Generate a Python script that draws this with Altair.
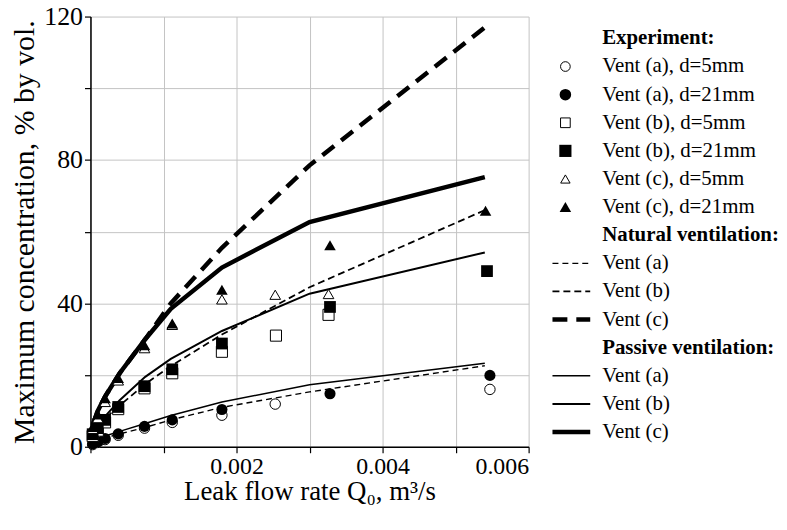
import altair as alt
import pandas as pd

# ---------------- data ----------------
# model curves (vertices of the piecewise curves)
line_x = [0.00003, 0.0001, 0.0002, 0.0004, 0.00075, 0.0011, 0.0018, 0.003, 0.0054]
nat_a = [1.2, 1.8, 2.5, 3.6, 5.4, 7.5, 11.0, 15.3, 22.6]
nat_b = [3.5, 5.5, 8.0, 11.5, 17.5, 22.5, 31.3, 44.5, 66.0]
nat_c = [6.0, 10.0, 14.0, 20.5, 30.0, 40.0, 55.5, 78.5, 117.0]
pas_a = [1.5, 2.2, 3.0, 4.3, 6.5, 8.7, 12.5, 17.3, 23.3]
pas_b = [4.0, 6.0, 8.5, 13.0, 19.5, 24.5, 32.3, 42.7, 54.2]
pas_c = [6.0, 10.0, 14.0, 20.5, 30.0, 38.5, 50.0, 62.7, 75.2]

# experiments
a5_x = [0.00003, 0.0001, 0.0002, 0.00038, 0.00074, 0.00112, 0.0018, 0.00253, 0.00547]
a5_y = [0.6, 1.2, 2.0, 3.2, 5.2, 6.8, 8.8, 11.9, 16.0]
a21_x = [0.00003, 0.0001, 0.0002, 0.00038, 0.00074, 0.00112, 0.0018, 0.00328, 0.00547]
a21_y = [0.8, 1.4, 2.3, 3.6, 5.7, 7.5, 10.4, 14.8, 19.9]
b5_x = [0.00003, 0.0001, 0.0002, 0.00038, 0.00074, 0.00112, 0.0018, 0.00254, 0.00326]
b5_y = [3.0, 4.5, 6.8, 10.5, 16.3, 20.5, 26.5, 31.0, 36.8]
b21_x = [0.00003, 0.0001, 0.0002, 0.00038, 0.00074, 0.00112, 0.0018, 0.00328, 0.00543]
b21_y = [3.5, 5.2, 7.5, 11.1, 16.9, 21.6, 28.8, 39.0, 49.0]
c5_x = [0.00003, 0.0001, 0.0002, 0.00038, 0.00074, 0.00112, 0.0018, 0.00253, 0.00326]
c5_y = [5.0, 8.0, 12.5, 18.5, 27.5, 34.0, 41.1, 42.4, 42.6]
c21_x = [0.00003, 0.0001, 0.0002, 0.00038, 0.00074, 0.00112, 0.0018, 0.00328, 0.00541]
c21_y = [5.5, 9.0, 13.5, 19.2, 28.3, 34.4, 43.8, 56.2, 65.8]

x_ticks = [0.0, 0.001, 0.002, 0.003, 0.004, 0.005, 0.006]
y_ticks = [0, 20, 40, 60, 80, 100, 120]

legend_labels = ["Experiment:", "Vent (a), d=5mm", "Vent (a), d=21mm", "Vent (b), d=5mm",
                 "Vent (b), d=21mm", "Vent (c), d=5mm", "Vent (c), d=21mm",
                 "Natural ventilation:", "Vent (a)", "Vent (b)", "Vent (c)",
                 "Passive ventilation:", "Vent (a)", "Vent (b)", "Vent (c)"]
heading_rows = [0, 7, 11]

FONT = "Liberation Serif, Times New Roman, DejaVu Serif, serif"
W, H = 441, 433

xenc = alt.X("x:Q", scale=alt.Scale(domain=[0, 0.006], nice=False, zero=False),
             axis=alt.Axis(values=x_ticks, title="Leak flow rate Q₀, m³/s",
                           labelExpr="(datum.value > 0.0001 && round(datum.value*1000) % 2 == 0) ? format(datum.value, '.3f') : ''",
                           grid=True, gridColor="#c4c4c4", gridWidth=1,
                           tickSize=6, tickColor="black", tickWidth=1.2,
                           domainColor="black", domainWidth=1.5,
                           labelFont=FONT, labelFontSize=24, labelColor="black", labelPadding=2,
                           titleFont=FONT, titleFontSize=27, titleFontWeight="normal",
                           titleColor="black", titlePadding=0))
yenc = alt.Y("y:Q", scale=alt.Scale(domain=[0, 120], nice=False),
             axis=alt.Axis(values=y_ticks, title="Maximum concentration, % by vol.",
                           labelExpr="datum.value % 40 == 0 ? datum.label : ''",
                           grid=True, gridColor="#c4c4c4", gridWidth=1,
                           tickSize=6, tickColor="black", tickWidth=1.2,
                           domainColor="black", domainWidth=1.5,
                           labelFont=FONT, labelFontSize=26, labelColor="black", labelPadding=2,
                           titleFont=FONT, titleFontSize=30, titleFontWeight="normal",
                           titleColor="black", titlePadding=4))

layers = []
line_specs = [
    (nat_a, 1.4, [6, 4]),
    (nat_b, 1.8, [7, 4]),
    (nat_c, 4.5, [15, 9]),
    (pas_a, 1.5, None),
    (pas_b, 2.0, None),
    (pas_c, 4.5, None),
]
for ys, w, dash in line_specs:
    df = pd.DataFrame({"x": line_x, "y": ys})
    kw = dict(color="black", strokeWidth=w, clip=True)
    if dash:
        kw["strokeDash"] = dash
    layers.append(alt.Chart(df).mark_line(**kw).encode(x=xenc, y=yenc))

point_specs = [
    (a5_x, a5_y, "circle", False, 110),
    (a21_x, a21_y, "circle", True, 125),
    (b5_x, b5_y, "square", False, 125),
    (b21_x, b21_y, "square", True, 140),
    (c5_x, c5_y, "triangle-up", False, 115),
    (c21_x, c21_y, "triangle-up", True, 135),
]
for xs, ys, shape, filled, size in point_specs:
    df = pd.DataFrame({"x": xs, "y": ys})
    if filled:
        m = alt.Chart(df).mark_point(shape=shape, filled=True, color="black", size=size, opacity=1)
    else:
        m = alt.Chart(df).mark_point(shape=shape, filled=True, fill="white", stroke="black",
                                     strokeWidth=1, size=size, opacity=1)
    layers.append(m.encode(x=xenc, y=yenc))

main = alt.layer(*layers).properties(width=W, height=H)

# ---------------- legend panel ----------------
LW = 228
top_off = 22  # pixel offset of first legend row below the plot top
row_h = 28.3
ldom = [-top_off / row_h, -top_off / row_h + H / row_h]
lx = alt.Scale(domain=[0, LW], nice=False, zero=False)
ly = alt.Scale(domain=ldom, nice=False, zero=False, reverse=True)

def lenc(df_chart, xcol="lx"):
    return df_chart.encode(x=alt.X(f"{xcol}:Q", scale=lx, axis=None),
                           y=alt.Y("row:Q", scale=ly, axis=None))

txt = pd.DataFrame({"row": list(range(len(legend_labels))), "label": legend_labels,
                    "lx": [54] * len(legend_labels)})
txt["head"] = txt["row"].isin(heading_rows)
leg_layers = []
leg_layers.append(lenc(alt.Chart(txt[~txt["head"]]).mark_text(
    align="left", baseline="middle", font=FONT, fontSize=21, color="black")).encode(text="label:N"))
leg_layers.append(lenc(alt.Chart(txt[txt["head"]]).mark_text(
    align="left", baseline="middle", font=FONT, fontSize=21, fontWeight="bold", color="black")).encode(text="label:N"))

sym_rows = [1, 2, 3, 4, 5, 6]
sym_specs = [("circle", False, 95), ("circle", True, 135), ("square", False, 95),
             ("square", True, 150), ("triangle-up", False, 90), ("triangle-up", True, 135)]
for r, (shape, filled, size) in zip(sym_rows, sym_specs):
    df = pd.DataFrame({"row": [r], "lx": [17]})
    if filled:
        m = alt.Chart(df).mark_point(shape=shape, filled=True, color="black", size=size, opacity=1)
    else:
        m = alt.Chart(df).mark_point(shape=shape, filled=True, fill="white", stroke="black",
                                     strokeWidth=1, size=size, opacity=1)
    leg_layers.append(lenc(m))

line_rows = [8, 9, 10, 12, 13, 14]
for r, (_, w, dash) in zip(line_rows, line_specs):
    df = pd.DataFrame({"row": [r], "lx": [4], "lx2": [42]})
    kw = dict(color="black", strokeWidth=w)
    if dash:
        kw["strokeDash"] = dash
    leg_layers.append(alt.Chart(df).mark_rule(**kw).encode(
        x=alt.X("lx:Q", scale=lx, axis=None), x2="lx2:Q",
        y=alt.Y("row:Q", scale=ly, axis=None)))

legend = alt.layer(*leg_layers).properties(width=LW, height=H)

chart = alt.hconcat(main, legend, spacing=20, bounds="flush").properties(
    padding={"left": 2, "top": -6, "right": 0, "bottom": -1}
).configure_view(stroke=None)

chart.save("out.html", embed_options={"renderer": "svg", "actions": False})
